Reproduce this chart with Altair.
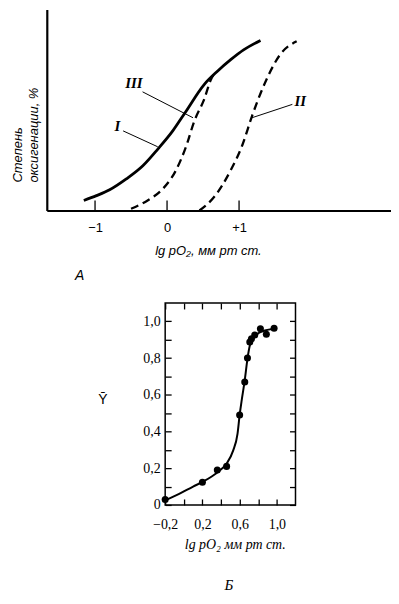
import altair as alt
import pandas as pd

# ---------------- Panel A data ----------------
a_curve1_x = [-1.156, -0.98, -0.797, -0.566, -0.336, -0.128, 0.079, 0.25, 0.515, 0.70, 0.884, 1.068, 1.298]
a_curve1_y = [4.8, 7.1, 9.9, 15.1, 21.4, 29.4, 38.1, 46.8, 60.3, 66.7, 72.2, 77.0, 81.4]
a_curve3_x = [-0.50, -0.27, -0.06, 0.12, 0.26, 0.38, 0.515, 0.61, 0.69]
a_curve3_y = [0.8, 4.8, 10.3, 19.0, 30.2, 42.9, 53.2, 62.7, 66.8]
a_curve2_x = [0.45, 0.65, 0.88, 1.05, 1.18, 1.34, 1.57, 1.80]
a_curve2_y = [0.0, 6.3, 19.0, 31.7, 45.2, 59.5, 74.6, 81.0]
a_ticks = [-1, 0, 1]
a_tick_labels = ["−1", "0", "+1"]
a_label_text = ["I", "II", "III"]
a_label_x = [-0.69, 1.85, -0.46]
a_label_y = [40.5, 52.4, 61.0]
a_leader_x1 = [-0.61, 1.74, -0.34]
a_leader_y1 = [38.1, 50.8, 56.8]
a_leader_x2 = [-0.13, 1.18, 0.36]
a_leader_y2 = [30.5, 44.4, 44.4]

# ---------------- Panel B data ----------------
b_point_x = [-0.20, 0.20, 0.36, 0.46, 0.60, 0.655, 0.684, 0.709, 0.727, 0.762, 0.823, 0.887, 0.97]
b_point_y = [0.03, 0.124, 0.19, 0.21, 0.49, 0.67, 0.80, 0.887, 0.905, 0.926, 0.96, 0.93, 0.963]
b_curve_x = [-0.2, -0.05, 0.1, 0.2, 0.3, 0.38, 0.46, 0.53, 0.577, 0.60, 0.625, 0.655, 0.685, 0.71, 0.75, 0.80, 0.87, 0.97]
b_curve_y = [0.025, 0.06, 0.1, 0.125, 0.155, 0.185, 0.225, 0.296, 0.387, 0.49, 0.58, 0.68, 0.80, 0.87, 0.91, 0.935, 0.95, 0.96]
b_x_ticks = [-0.2, 0.0, 0.2, 0.4, 0.6, 0.8, 1.0]
b_x_label_vals = [-0.2, 0.2, 0.6, 1.0]
b_x_labels = ["−0,2", "0,2", "0,6", "1,0"]
b_y_ticks = [0.0, 0.1, 0.2, 0.3, 0.4, 0.5, 0.6, 0.7, 0.8, 0.9, 1.0]
b_y_label_vals = [0.0, 0.2, 0.4, 0.6, 0.8, 1.0]
b_y_labels = ["0", "0,2", "0,4", "0,6", "0,8", "1,0"]


def label_expr(vals, labels, mult):
    expr = "''"
    for v, l in zip(vals, labels):
        expr = f"round(datum.value*{mult}) == {round(v * mult)} ? '{l}' : ({expr})"
    return expr


no_frame = alt.ViewBackground(stroke="transparent", strokeWidth=0)

# ---------------- Panel A ----------------
xa = alt.Scale(domain=[-1.67, 3.11], nice=False, zero=False)
ya = alt.Scale(domain=[0, 96.2], nice=False, zero=False)
ax_ax = alt.Axis(values=a_ticks, labelExpr=label_expr(a_ticks, a_tick_labels, 1),
                 ticks=False, tickSize=0, domain=True, domainColor="black", domainWidth=2.2,
                 grid=False, labelFont="Liberation Sans", labelFontSize=13, labelColor="black",
                 labelPadding=11, labelFlush=False, title="lg pO₂, мм рт ст.",
                 titleFont="Liberation Sans", titleFontSize=13, titleFontStyle="italic",
                 titleFontWeight="normal", titleColor="black", titleX=162, titleY=40,
                 titleAlign="center", titleBaseline="middle")
ax_ay = alt.Axis(ticks=False, labels=False, domain=True, domainColor="black",
                 domainWidth=2.2, grid=False, title=None)

df1 = pd.DataFrame({"x": a_curve1_x, "y": a_curve1_y})
df2 = pd.DataFrame({"x": a_curve2_x, "y": a_curve2_y})
df3 = pd.DataFrame({"x": a_curve3_x, "y": a_curve3_y})

XA = alt.X("x:Q", scale=xa, axis=ax_ax)
YA = alt.Y("y:Q", scale=ya, axis=ax_ay)

line1 = alt.Chart(df1).mark_line(color="black", strokeWidth=2.8, interpolate="monotone").encode(x=XA, y=YA)
line2 = alt.Chart(df2).mark_line(color="black", strokeWidth=2.3, strokeDash=[8, 5], interpolate="monotone").encode(x=XA, y=YA)
line3 = alt.Chart(df3).mark_line(color="black", strokeWidth=2.3, strokeDash=[8, 5], interpolate="monotone").encode(x=XA, y=YA)

ticks_a = alt.Chart(pd.DataFrame({"x": a_ticks})).mark_rule(color="black", strokeWidth=1.3).encode(
    x=XA, y=alt.value(202), y2=alt.value(192))

leaders = alt.Chart(pd.DataFrame({"x": a_leader_x1, "y": a_leader_y1,
                                  "x2": a_leader_x2, "y2": a_leader_y2})).mark_rule(
    color="black", strokeWidth=1).encode(x=XA, y=YA, x2="x2:Q", y2="y2:Q")

labels_a = alt.Chart(pd.DataFrame({"x": a_label_x, "y": a_label_y, "t": a_label_text})).mark_text(
    font="Liberation Serif", fontStyle="italic", fontWeight="bold", fontSize=15, color="black").encode(
    x=XA, y=YA, text="t:N")

one = pd.DataFrame({"k": [0]})
ytitle1 = alt.Chart(one).mark_text(text="Степень", angle=270, align="left", baseline="middle",
                                   font="Liberation Sans", fontStyle="italic", fontSize=13,
                                   color="black").encode(x=alt.value(-29), y=alt.value(174))
ytitle2 = alt.Chart(one).mark_text(text="оксигенации, %", angle=270, align="left", baseline="middle",
                                   font="Liberation Sans", fontStyle="italic", fontSize=13,
                                   color="black").encode(x=alt.value(-13), y=alt.value(174))
letter_a = alt.Chart(one).mark_text(text="А", font="Liberation Sans", fontStyle="italic",
                                    fontSize=14, color="black").encode(x=alt.value(33), y=alt.value(268))
# invisible anchor keeping a small left margin for the rotated title
anchor_a = alt.Chart(one).mark_text(text=".", opacity=0, align="left").encode(
    x=alt.value(-39), y=alt.value(100))

panel_a = alt.layer(line1, line2, line3, ticks_a, leaders, labels_a, ytitle1, ytitle2, letter_a,
                    anchor_a).properties(width=346, height=202, view=no_frame)

# ---------------- Panel B ----------------
xb = alt.Scale(domain=[-0.2, 1.2], nice=False, zero=False)
yb = alt.Scale(domain=[0, 1.1], nice=False, zero=False)
common_tick = dict(grid=False, domain=False, tickColor="black", tickWidth=1.3, tickSize=6, offset=-6)
ax_bx = alt.Axis(orient="bottom", values=b_x_ticks, labelExpr=label_expr(b_x_label_vals, b_x_labels, 10),
                 labelFont="Liberation Serif", labelFontSize=14, labelColor="black", labelPadding=13,
                 labelFlush=False,
                 title="lg pO₂  мм рт ст.", titleFont="Liberation Serif", titleFontSize=14,
                 titleFontStyle="italic", titleFontWeight="normal", titleColor="black",
                 titleX=70, titleY=46, titleAlign="center", titleBaseline="middle", **common_tick)
ax_by = alt.Axis(orient="left", values=b_y_ticks, labelExpr=label_expr(b_y_label_vals, b_y_labels, 10),
                 labelFont="Liberation Serif", labelFontSize=14, labelColor="black", labelPadding=5,
                 title="Ȳ", titleFont="Liberation Sans", titleFontSize=14, titleFontWeight="normal",
                 titleColor="black", titleAngle=0, titleX=-69, titleY=97, titleAlign="center",
                 titleBaseline="middle", **common_tick)
ax_bx_top = alt.Axis(orient="top", values=b_x_ticks, labels=False, title=None, **common_tick)
ax_by_right = alt.Axis(orient="right", values=b_y_ticks, labels=False, title=None, **common_tick)

curve_b = alt.Chart(pd.DataFrame({"x": b_curve_x, "y": b_curve_y})).mark_line(
    color="black", strokeWidth=2, interpolate="monotone").encode(
    x=alt.X("x:Q", scale=xb, axis=ax_bx), y=alt.Y("y:Q", scale=yb, axis=ax_by))
points_b = alt.Chart(pd.DataFrame({"x": b_point_x, "y": b_point_y})).mark_circle(
    color="black", opacity=1, size=50).encode(
    x=alt.X("x:Q", scale=xb, axis=ax_bx_top), y=alt.Y("y:Q", scale=yb, axis=ax_by_right))
letter_b = alt.Chart(one).mark_text(text="Б", font="Liberation Serif", fontStyle="italic",
                                    fontSize=15, color="black").encode(x=alt.value(64), y=alt.value(284))

panel_b = alt.layer(curve_b, points_b, letter_b).resolve_axis(
    x="independent", y="independent").properties(
    width=131, height=203, view=alt.ViewBackground(stroke="black", strokeWidth=1.5))

# empty left filler that shifts panel B to the right
filler = alt.Chart(one).mark_text(text=".", opacity=0).encode(
    x=alt.value(2), y=alt.value(2)).properties(width=40, height=10, view=no_frame)

row_b = alt.hconcat(filler, panel_b, spacing=10)

chart = alt.vconcat(panel_a, row_b, spacing=16).properties(padding=0).configure_view(
    strokeWidth=0).configure(background="white")

chart.save("out.html", embed_options={"renderer": "svg", "actions": False})
